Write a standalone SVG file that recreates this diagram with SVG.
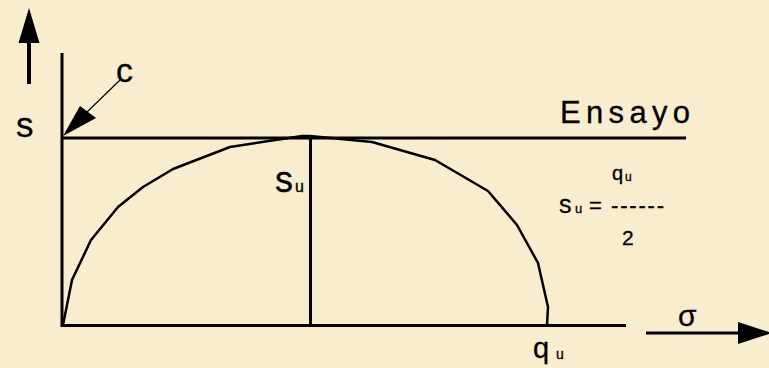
<svg xmlns="http://www.w3.org/2000/svg" width="769" height="368" viewBox="0 0 769 368">
  <style>
    .ln { stroke: #000; stroke-width: 3; fill: none; }
    .cv { stroke: #000; stroke-width: 2.5; fill: none; stroke-linejoin: round; }
    .t { font-family: "Liberation Sans", Arial, sans-serif; fill: #000; stroke: #000; stroke-width: 0.3; }
  </style>
  <rect width="769" height="368" fill="#F9EDCF"/>
  <g id="axes">
    <line class="ln" x1="62" y1="53" x2="62" y2="327"/>
    <line class="ln" x1="61" y1="138" x2="686" y2="138"/>
    <line class="ln" x1="61" y1="325.5" x2="626" y2="325.5"/>
    <line class="ln" x1="310.5" y1="136" x2="310.5" y2="326"/>
  </g>
  <g id="curve">
    <polyline class="cv" points="63,325 72,280 91,240 118,207 143,187 173,169 230,147 302,136 310,136 372,142 435,160 488,191 517,225 538,263 548,307 547,325"/>
  </g>
  <g id="connectors">
    <line x1="29" y1="84" x2="29" y2="40" stroke="#000" stroke-width="4"/>
    <polygon points="29,8 39.5,43 18.5,43" fill="#000"/>
    <line x1="120" y1="80" x2="86" y2="113" stroke="#000" stroke-width="1.2"/>
    <polygon points="63,136 80,106 96,118" fill="#000"/>
    <line x1="646" y1="333" x2="742" y2="333" stroke="#000" stroke-width="3"/>
    <polygon points="738,322 772,333 738,344" fill="#000"/>
  </g>
  <g id="labels">
    <text class="t" x="116" y="82" font-size="34">c</text>
    <text class="t" x="16" y="137" font-size="35">s</text>
    <text class="t" x="275" y="192" font-size="36">s</text>
    <text class="t" x="295" y="192" font-size="16">u</text>
    <text class="t" x="560" y="123" font-size="31" textLength="130" lengthAdjust="spacing">Ensayo</text>
    <text class="t" x="612" y="180" font-size="20">q</text>
    <text class="t" x="625" y="181" font-size="12">u</text>
    <text class="t" x="559" y="213" font-size="25">s</text>
    <text class="t" x="575" y="213" font-size="13">u</text>
    <text class="t" x="589" y="213" font-size="22">=</text>
    <text class="t" x="611" y="213" font-size="22" textLength="53" lengthAdjust="spacing">------</text>
    <text class="t" x="622" y="245" font-size="21">2</text>
    <text class="t" x="678" y="326" font-size="30">σ</text>
    <text class="t" x="533" y="358" font-size="29">q</text>
    <text class="t" x="556" y="359" font-size="14">u</text>
  </g>
</svg>
